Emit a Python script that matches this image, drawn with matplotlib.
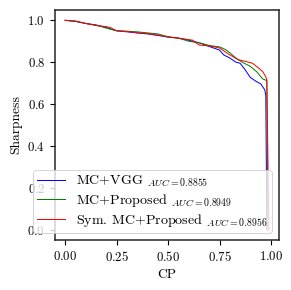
import matplotlib
matplotlib.use("Agg")
import matplotlib.pyplot as plt

plt.rcParams['font.family'] = 'serif'
plt.rcParams['font.serif'] = ['cmr10']
plt.rcParams['mathtext.fontset'] = 'cm'
plt.rcParams['axes.formatter.use_mathtext'] = True
plt.rcParams['font.size'] = 13

vgg_x = [0, 0.05, 0.1, 0.15, 0.2, 0.25, 0.3, 0.35, 0.4, 0.45, 0.5, 0.55, 0.6, 0.65, 0.7, 0.75, 0.77, 0.8, 0.83, 0.85, 0.87, 0.9, 0.93, 0.95, 0.97, 0.975, 0.98]
vgg_y = [1.0, 0.995, 0.985, 0.978, 0.965, 0.95, 0.945, 0.94, 0.935, 0.928, 0.92, 0.915, 0.905, 0.893, 0.875, 0.858, 0.835, 0.82, 0.80, 0.795, 0.77, 0.727, 0.707, 0.697, 0.668, 0.64, 0.0]

prop_x = [0, 0.05, 0.1, 0.15, 0.2, 0.25, 0.3, 0.35, 0.4, 0.45, 0.5, 0.55, 0.6, 0.65, 0.7, 0.75, 0.78, 0.8, 0.83, 0.86, 0.9, 0.93, 0.96, 0.98, 0.985]
prop_y = [1.0, 0.995, 0.985, 0.977, 0.963, 0.95, 0.948, 0.945, 0.94, 0.935, 0.922, 0.915, 0.9, 0.893, 0.88, 0.873, 0.86, 0.845, 0.82, 0.80, 0.78, 0.755, 0.72, 0.712, 0.0]

sym_x = [0, 0.05, 0.1, 0.15, 0.2, 0.22, 0.25, 0.3, 0.35, 0.4, 0.45, 0.5, 0.55, 0.6, 0.62, 0.65, 0.7, 0.75, 0.8, 0.84, 0.88, 0.91, 0.94, 0.96, 0.975, 0.98, 0.99]
sym_y = [1.0, 0.997, 0.985, 0.975, 0.97, 0.965, 0.95, 0.947, 0.94, 0.937, 0.93, 0.92, 0.915, 0.908, 0.905, 0.882, 0.878, 0.868, 0.835, 0.812, 0.803, 0.795, 0.772, 0.755, 0.73, 0.715, 0.0]

labels = ["MC+VGG $_{AUC=0.8855}$", "MC+Proposed $_{AUC=0.8949}$", "Sym. MC+Proposed $_{AUC=0.8956}$"]
colors = ['blue', 'green', 'red']

fig = plt.figure(figsize=(291/72, 290/72), dpi=72)
ax = fig.add_axes([0.189, 0.172, 0.77, 0.794])
for xs, ys, lab, c in zip([vgg_x, prop_x, sym_x], [vgg_y, prop_y, sym_y], labels, colors):
    ax.plot(xs, ys, color=c, lw=1.0, label=lab)
ax.set_xticks([0, 0.25, 0.5, 0.75, 1.0])
ax.set_yticks([0, 0.2, 0.4, 0.6, 0.8, 1.0])
ax.tick_params(labelsize=12.7, length=4.9, width=1.1, pad=4.9)
for s in ax.spines.values():
    s.set_linewidth(1.5)
    s.set_color('#222222')
ax.set_xlabel("CP", fontsize=13.5, labelpad=5)
ax.set_ylabel("Sharpness", fontsize=13.5, labelpad=5)
ax.legend(loc='lower right', fontsize=14, handlelength=2.0, labelspacing=0.2, borderpad=0.3)
fig.savefig("out.png", dpi=72)
